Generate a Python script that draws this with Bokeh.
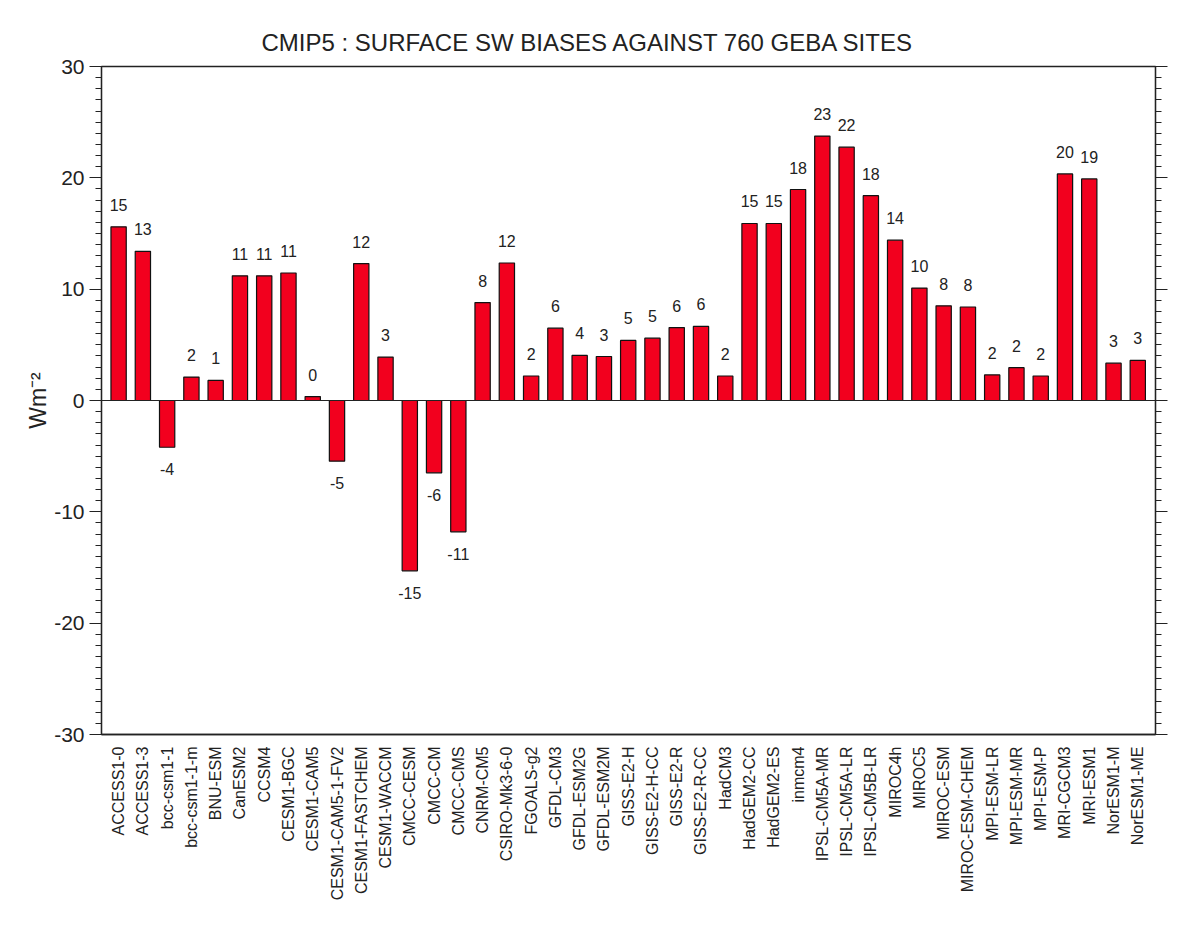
import math
from bokeh.plotting import figure
from bokeh.models import (ColumnDataSource, Range1d, FixedTicker, LinearAxis,
                          Span, Title)
from bokeh.core.properties import value
from bokeh.embed import file_html
from bokeh.resources import INLINE

models = [
    "ACCESS1-0", "ACCESS1-3", "bcc-csm1-1", "bcc-csm1-1-m", "BNU-ESM",
    "CanESM2", "CCSM4", "CESM1-BGC", "CESM1-CAM5", "CESM1-CAM5-1-FV2",
    "CESM1-FASTCHEM", "CESM1-WACCM", "CMCC-CESM", "CMCC-CM", "CMCC-CMS",
    "CNRM-CM5", "CSIRO-Mk3-6-0", "FGOALS-g2", "GFDL-CM3", "GFDL-ESM2G",
    "GFDL-ESM2M", "GISS-E2-H", "GISS-E2-H-CC", "GISS-E2-R", "GISS-E2-R-CC",
    "HadCM3", "HadGEM2-CC", "HadGEM2-ES", "inmcm4", "IPSL-CM5A-MR",
    "IPSL-CM5A-LR", "IPSL-CM5B-LR", "MIROC4h", "MIROC5", "MIROC-ESM",
    "MIROC-ESM-CHEM", "MPI-ESM-LR", "MPI-ESM-MR", "MPI-ESM-P", "MRI-CGCM3",
    "MRI-ESM1", "NorESM1-M", "NorESM1-ME",
]

bias = [
    15.6, 13.4, -4.2, 2.1, 1.8,
    11.2, 11.2, 11.45, 0.35, -5.45,
    12.3, 3.9, -15.3, -6.5, -11.8,
    8.8, 12.35, 2.2, 6.5, 4.05,
    3.95, 5.4, 5.6, 6.55, 6.65,
    2.2, 15.9, 15.9, 18.95, 23.75,
    22.75, 18.4, 14.4, 10.1, 8.5,
    8.4, 2.3, 2.95, 2.2, 20.35,
    19.9, 3.35, 3.6,
]

bar_labels = [
    15, 13, -4, 2, 1,
    11, 11, 11, 0, -5,
    12, 3, -15, -6, -11,
    8, 12, 2, 6, 4,
    3, 5, 5, 6, 6,
    2, 15, 15, 18, 23,
    22, 18, 14, 10, 8,
    8, 2, 2, 2, 20,
    19, 3, 3,
]

y_ticks = [-30, -20, -10, 0, 10, 20, 30]
title_text = "CMIP5 : SURFACE SW BIASES AGAINST 760 GEBA SITES"
y_label = "Wm\u207b\u00b2"

FONT = "Liberation Sans"
INK = "#222222"

xs = list(range(1, len(models) + 1))
src = ColumnDataSource(dict(
    x=xs,
    top=bias,
    label=[str(v) for v in bar_labels],
    yoff=[-22 if b >= 0 else 22 for b in bias],
))

p = figure(
    width=1168, height=916,
    x_range=Range1d(0.295, 43.73), y_range=Range1d(-30, 30),
    output_backend="svg", toolbar_location=None,
    min_border_left=101, min_border_right=13,
    min_border_top=66, min_border_bottom=182,
    background_fill_color="white", border_fill_color="white",
)

p.title = Title(text=title_text, align="left", offset=160,
                text_font=FONT, text_font_size="24px",
                text_font_style="normal", text_color=INK, standoff=22)

p.xgrid.visible = False
p.ygrid.visible = False
p.outline_line_color = INK
p.outline_line_width = 1.3
p.outline_line_alpha = 1.0

p.add_layout(Span(location=0, dimension="width", line_color=INK,
                  line_width=1.2))

p.vbar(x="x", top="top", bottom=0, width=0.63, source=src,
       fill_color="#F2001E", line_color="#111111", line_width=1.2)

p.text(x="x", y="top", text="label", y_offset="yoff", source=src,
       text_align="center", text_baseline="middle",
       text_font=value(FONT), text_font_size="16px", text_color=INK)

# x axis (categories)
xa = p.xaxis[0]
xa.ticker = FixedTicker(ticks=xs)
xa.major_label_overrides = {i: m for i, m in zip(xs, models)}
xa.major_label_orientation = math.pi / 2
xa.major_tick_line_color = None
xa.minor_tick_line_color = None
xa.major_label_standoff = 6
xa.major_label_text_font = FONT
xa.major_label_text_font_size = "16px"
xa.major_label_text_color = INK
xa.axis_line_color = INK
xa.axis_line_width = 1.3

# left y axis
ya = p.yaxis[0]
ya.ticker = FixedTicker(ticks=y_ticks, minor_ticks=list(range(-30, 31)))
ya.major_label_overrides = {t: str(t) for t in y_ticks}
ya.major_tick_out = 12
ya.major_tick_in = 0
ya.minor_tick_out = 6
ya.minor_tick_in = 0
ya.major_tick_line_color = INK
ya.minor_tick_line_color = INK
ya.major_label_standoff = 5
ya.major_label_text_font = FONT
ya.major_label_text_font_size = "21px"
ya.major_label_text_color = INK
ya.axis_line_color = INK
ya.axis_line_width = 1.3
ya.axis_label = y_label
ya.axis_label_text_font = FONT
ya.axis_label_text_font_size = "23px"
ya.axis_label_text_font_style = "normal"
ya.axis_label_text_color = INK
ya.axis_label_standoff = 0

# right y axis (ticks only, no labels drawn)
ra = LinearAxis(ticker=FixedTicker(ticks=y_ticks,
                                   minor_ticks=list(range(-30, 31))))
ra.major_label_text_color = None
ra.major_label_text_font_size = "1px"
ra.major_label_standoff = 0
ra.major_tick_out = 12
ra.major_tick_in = 0
ra.minor_tick_out = 6
ra.minor_tick_in = 0
ra.major_tick_line_color = INK
ra.minor_tick_line_color = INK
ra.axis_line_color = INK
ra.axis_line_width = 1.3
p.add_layout(ra, "right")

open("out.html", "w").write(file_html(p, INLINE))
